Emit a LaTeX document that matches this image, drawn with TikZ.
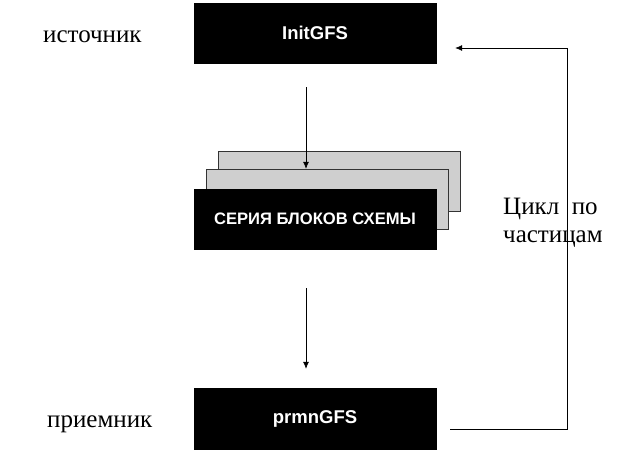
\documentclass[tikz,border=0pt]{standalone}
\usepackage{fontspec}
\setmainfont{Liberation Serif}
\setsansfont{Liberation Sans}
\usetikzlibrary{arrows.meta}
\begin{document}
\begin{tikzpicture}[x=1pt,y=1pt,
  blk/.style={draw=black,fill=black,text=white,minimum width=242pt,minimum height=60pt,inner sep=0pt,font=\sffamily\bfseries\fontsize{18.5}{22}\selectfont},
  blkru/.style={blk,font=\sffamily\bfseries\fontsize{16.6}{20}\selectfont},
  gry/.style={draw=black!80,fill=gray!38,minimum width=242pt,minimum height=60pt,inner sep=0pt},
  arr/.style={draw=black,line width=0.7pt,-{Latex[length=7pt,width=6pt]}},
  lbl/.style={font=\fontsize{25}{28}\selectfont,inner sep=0pt}]
\useasboundingbox (0,0) rectangle (639,-471);
\node[blk] (init) at (315,-33) {InitGFS};
\node[gry] (back) at (339.5,-181.5) {};
\node[gry] (mid) at (327,-199) {};
\node[blkru] (front) at (315,-219) {СЕРИЯ БЛОКОВ СХЕМЫ};
\node[blk,minimum height=61pt] (prmn) at (315,-418.5) {prmnGFS};
\node[lbl,anchor=base west] (src) at (43,-42) {источник};
\node[lbl,anchor=base west] (dst) at (47,-427) {приемник};
\node[lbl,anchor=base west,align=left] (loop) at (503,-242) {Цикл\ \ по\\частицам};
\draw[arr] ([shift={(-9pt,-24pt)}]init.south) -- ([shift={(-9pt,0pt)}]init.south |- mid.north);
\draw[arr] ([shift={(-9pt,-39pt)}]front.south) -- ([shift={(-9pt,19pt)}]prmn.north);
\coordinate (c1) at (567,-429);
\coordinate (c2) at (567,-48);
\draw[arr] ([shift={(14pt,-10.5pt)}]prmn.east) -- (c1) -- (c2) -- ([shift={(19pt,-15pt)}]init.east);
\end{tikzpicture}
\end{document}
